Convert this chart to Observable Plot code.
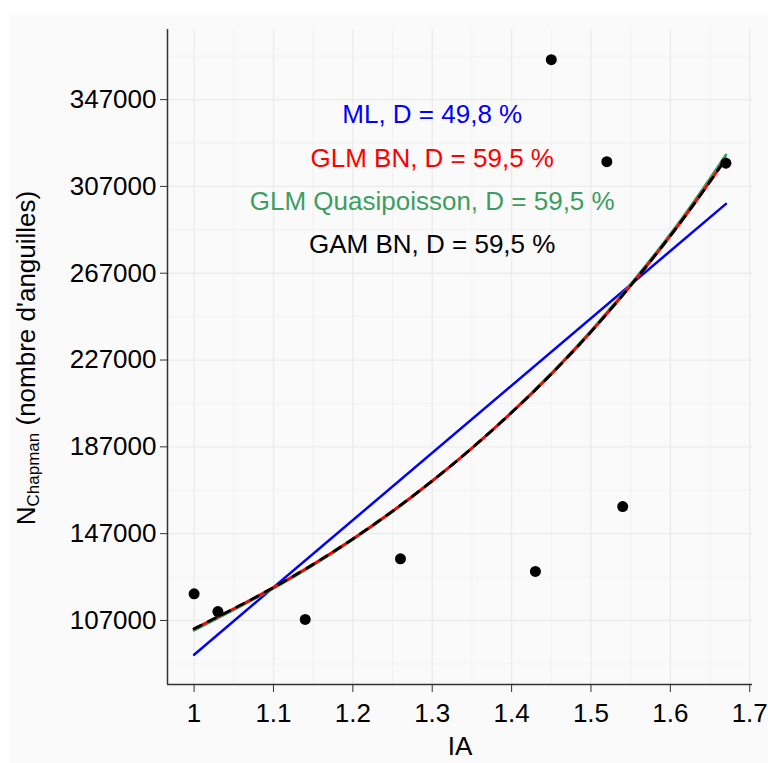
<!DOCTYPE html>
<html><head><meta charset="utf-8">
<script src="https://cdn.jsdelivr.net/npm/d3@7"></script>
<script src="https://cdn.jsdelivr.net/npm/@observablehq/plot@0.6"></script>
<style>
html,body{margin:0;padding:0;background:#fff;}
#wrap{position:absolute;left:10px;top:15px;width:758px;height:748px;background:#fafafa;overflow:hidden;}
</style></head><body><div id="wrap"></div>
<script>
// observed points
const pointsIA = [1.00, 1.03, 1.14, 1.26, 1.43, 1.45, 1.52, 1.54, 1.67];
const pointsN  = [119300, 111100, 107500, 135400, 129600, 365400, 318400, 159500, 317700];
// fitted curves
const curveIA = [1.0, 1.1, 1.2, 1.3, 1.4, 1.5, 1.6, 1.67];
const glmQP   = [102500, 121800, 144300, 171200, 202900, 240400, 285000, 321500];
const glmBN   = [103200, 122200, 144600, 171300, 202800, 240000, 284200, 319800];
const gamBN   = [103200, 122200, 144600, 171300, 202800, 240000, 284200, 319800];
const mlIA    = [1.0, 1.67];
const mlN     = [91230, 298950];
// ticks
const xTicks = [1, 1.1, 1.2, 1.3, 1.4, 1.5, 1.6, 1.7];
const xMinor = [1.05, 1.15, 1.25, 1.35, 1.45, 1.55, 1.65];
const yTicks = [107000, 147000, 187000, 227000, 267000, 307000, 347000];
const yMinor = [87000, 127000, 167000, 207000, 247000, 287000, 327000, 367000];
const xDomain = [0.9665, 1.7035];
const yDomain = [77500, 379300];
// annotations
const labels = ["ML, D = 49,8 %", "GLM BN, D = 59,5 %", "GLM Quasipoisson, D = 59,5 %", "GAM BN, D = 59,5 %"];
const labelColors = ["#0000ff", "#ff0000", "#3d9e62", "#000000"];
const labelIA = 1.3;
const labelN = [340000, 320000, 300000, 280000];
const xTitle = "IA";

const FONT = "'Liberation Sans', Arial, Helvetica, sans-serif";

const textMarks = labels.map((t, i) =>
  Plot.text([t], {x: () => labelIA, y: () => labelN[i], text: d => d, fill: labelColors[i], fontSize: 26, textAnchor: "middle"})
);

const plot = Plot.plot({
  width: 758, height: 748,
  marginLeft: 157, marginTop: 14, marginRight: 16, marginBottom: 79,
  style: {background: "#fafafa", fontFamily: FONT, fontSize: "26px", color: "#000"},
  x: {domain: xDomain, label: null},
  y: {domain: yDomain, label: null},
  marks: [
    Plot.ruleX(xMinor, {stroke: "#f1f1f1", strokeWidth: 0.9}),
    Plot.ruleY(yMinor, {stroke: "#f1f1f1", strokeWidth: 0.9}),
    Plot.ruleX(xTicks, {stroke: "#ebebeb", strokeWidth: 1.3}),
    Plot.ruleY(yTicks, {stroke: "#ebebeb", strokeWidth: 1.3}),
    Plot.ruleX([xDomain[0]], {stroke: "#333", strokeWidth: 1.5}),
    Plot.ruleY([yDomain[0]], {stroke: "#333", strokeWidth: 1.5}),
    Plot.axisX(xTicks, {tickSize: 8, tickPadding: 11, stroke: "#333", fill: "#000", fontSize: 26, tickFormat: d => String(d), label: null}),
    Plot.axisY(yTicks, {tickSize: 7, tickPadding: 4, stroke: "#333", fill: "#000", fontSize: 26, tickFormat: d3.format("d"), label: null}),
    Plot.line(mlIA, {x: d => d, y: (d, i) => mlN[i], stroke: "#0000ff", strokeWidth: 2.5}),
    Plot.line(curveIA, {x: d => d, y: (d, i) => glmQP[i], stroke: "#3d9e62", strokeWidth: 2.8, curve: "natural"}),
    Plot.line(curveIA, {x: d => d, y: (d, i) => glmBN[i], stroke: "#ff0000", strokeWidth: 2.8, curve: "natural"}),
    Plot.line(curveIA, {x: d => d, y: (d, i) => gamBN[i], stroke: "#000000", strokeWidth: 2.8, strokeDasharray: "8,8", curve: "natural"}),
    Plot.dot(pointsIA, {x: d => d, y: (d, i) => pointsN[i], r: 5.5, fill: "#000"}),
    ...textMarks,
    Plot.text([xTitle], {frameAnchor: "bottom", dy: 52, lineAnchor: "top", text: d => d, fontSize: 26, fill: "#000"})
  ]
});

// y-axis title with subscript
const svg = d3.select(plot);
const yt = svg.append("text")
  .attr("transform", "translate(25,343) rotate(-90)")
  .attr("text-anchor", "middle")
  .attr("font-family", FONT)
  .attr("font-size", 26)
  .attr("fill", "#000");
yt.append("tspan").text("N");
yt.append("tspan").attr("font-size", 17).attr("dy", 4).text("Chapman");
yt.append("tspan").attr("dy", -4).text(" (nombre d'anguilles)");

document.getElementById("wrap").appendChild(plot);
</script>
</body></html>
